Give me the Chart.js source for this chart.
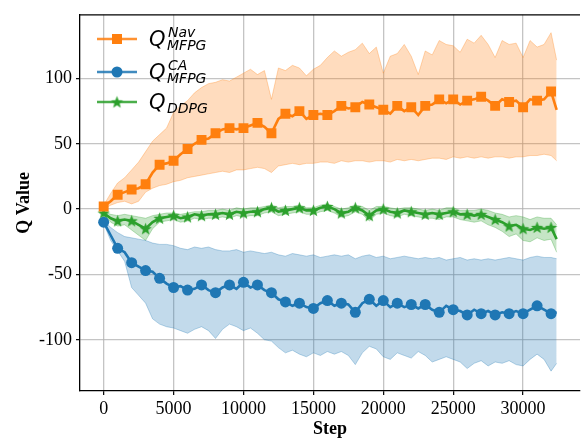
<!DOCTYPE html>
<html>
<head>
<meta charset="utf-8">
<script src="https://cdn.jsdelivr.net/npm/chart.js@4/dist/chart.umd.min.js"></script>
<style>
  body { margin: 0; background: #fff; }
  #wrap { width: 587px; height: 439px; }
</style>
</head>
<body>
<div id="wrap"><canvas id="qChart"></canvas></div>
<script>
// training steps (x) and tick values
const steps = [
  0, 500, 1000, 1500, 2000, 2500, 3000, 3500, 4000, 4500,
  5000, 5500, 6000, 6500, 7000, 7500, 8000, 8500, 9000, 9500,
  10000, 10500, 11000, 11500, 12000, 12500, 13000, 13500, 14000, 14500,
  15000, 15500, 16000, 16500, 17000, 17500, 18000, 18500, 19000, 19500,
  20000, 20500, 21000, 21500, 22000, 22500, 23000, 23500, 24000, 24500,
  25000, 25500, 26000, 26500, 27000, 27500, 28000, 28500, 29000, 29500,
  30000, 30500, 31000, 31500, 32000, 32400
];
const xTicks = [0, 5000, 10000, 15000, 20000, 25000, 30000];
const yTicks = [-100, -50, 0, 50, 100];

// Q^Nav_MFPG
const navMean = [
  2, 6, 11, 13, 15, 16, 19, 28, 34, 35,
  37, 42, 46, 50, 53, 54, 58, 61, 62, 61,
  62, 64, 66, 63, 58, 69, 73, 71, 75, 69,
  72, 73, 72, 75, 79, 77, 78, 82, 80, 78,
  76, 73, 79, 75, 78, 72, 79, 80, 84, 81,
  84, 80, 83, 84, 86, 83, 79, 84, 82, 83,
  78, 84, 83, 84, 90, 76
];
const navHigh = [
  3, 12, 20, 24, 30, 36, 44, 52, 57, 62,
  74, 79, 83, 89, 93, 96, 97, 99, 98, 101,
  104, 107, 103, 106, 84, 108, 106, 110, 108, 102,
  107, 110, 116, 121, 117, 120, 122, 127, 119, 124,
  104, 117, 119, 126, 117, 103, 121, 118, 129, 126,
  125, 120, 130, 127, 133, 126, 116, 129, 126, 127,
  116, 129, 124, 126, 135, 114
];
const navLow = [
  0, 3, 5, 6, 4, 6, 13, 16, 18, 19,
  21, 22, 24, 25, 26, 27, 28, 29, 28, 30,
  30, 31, 32, 31, 28, 33, 34, 35, 34, 35,
  35, 36, 36, 35, 37, 36, 37, 37, 36, 37,
  37, 36, 38, 37, 38, 37, 38, 39, 39, 38,
  40, 39, 40, 39, 40, 39, 40, 40, 39, 40,
  40, 41, 41, 42, 41, 37
];

// Q^CA_MFPG
const caMean = [
  -10, -20, -30, -33, -41, -44, -47, -48, -53, -57,
  -60, -59, -62, -61, -58, -62, -64, -60, -58, -61,
  -56, -60, -58, -62, -64, -69, -71, -74, -72, -75,
  -76, -72, -70, -74, -72, -73, -79, -72, -69, -74,
  -70, -75, -72, -75, -73, -76, -73, -77, -79, -74,
  -77, -78, -81, -77, -80, -78, -81, -79, -80, -78,
  -80, -77, -74, -77, -80, -79
];
const caHigh = [
  -9, -14, -18, -21, -22, -23, -24, -26, -27, -27,
  -28, -30, -31, -29, -30, -29, -31, -32, -32, -31,
  -33, -32, -33, -34, -33, -35, -36, -34, -35, -36,
  -35, -37, -36, -35, -36, -35, -38, -36, -35, -37,
  -36, -38, -37, -36, -37, -38, -37, -38, -37, -39,
  -38, -37, -39, -38, -39, -38, -39, -38, -37, -38,
  -39, -37, -36, -37, -37, -38
];
const caLow = [
  -11, -24, -32, -40, -60, -66, -72, -84, -88, -90,
  -91, -93, -95, -92, -90, -93, -99, -92, -88, -90,
  -93, -91, -95, -100, -101, -106, -110, -108, -111, -113,
  -110, -112, -109, -111, -109, -112, -119, -110, -105, -107,
  -113, -115, -110, -112, -114, -109, -112, -117, -115, -113,
  -115, -117, -122, -118, -116, -120, -117, -118, -116, -119,
  -120, -115, -111, -115, -124, -118
];

// Q_DDPG
const ddpgMean = [
  -3, -7, -9, -8, -9, -12, -15, -10, -7, -6,
  -5, -7, -6, -4, -5, -4, -4, -3, -4, -2,
  -3, -2, -2, 0, 1, -2, -1, 0, 1, -1,
  -1, 1, 2, 0, -3, -2, 1, -1, -5, -1,
  0, -2, -3, -1, -2, -3, -4, -3, -4, -3,
  -2, -4, -4, -5, -4, -6, -8, -10, -13, -12,
  -15, -16, -14, -15, -14, -23
];
const ddpgHigh = [
  -2, -4, -5, -4, -5, -6, -7, -5, -4, -3,
  -3, -4, -3, -2, -2, -1, -1, 0, -1, 1,
  0, 1, 1, 2, 3, 1, 2, 2, 3, 1,
  1, 3, 4, 2, 0, 1, 3, 2, -1, 2,
  2, 1, 0, 1, 1, 0, -1, 0, -1, 1,
  1, -1, -1, -1, 0, -1, -3, -4, -6, -5,
  -6, -8, -6, -7, -7, -12
];
const ddpgLow = [
  -4, -10, -13, -12, -16, -20, -24, -15, -10, -9,
  -8, -10, -9, -7, -8, -7, -7, -6, -7, -5,
  -6, -5, -5, -3, -2, -5, -4, -3, -2, -4,
  -4, -2, -1, -3, -6, -5, -2, -4, -9, -4,
  -3, -5, -6, -4, -5, -6, -7, -7, -8, -6,
  -6, -8, -9, -10, -9, -12, -14, -17, -21, -19,
  -24, -25, -22, -24, -23, -33
];

const ORANGE = '#ff7f0e', BLUE = '#1f77b4', GREEN = '#2ca02c';
const rgba = (hex, a) => {
  const n = parseInt(hex.slice(1), 16);
  return `rgba(${n >> 16},${(n >> 8) & 255},${n & 255},${a})`;
};

function starImage(color, r) {
  const s = Math.ceil(r * 2 + 2);
  const c = document.createElement('canvas');
  c.width = s; c.height = s;
  const g = c.getContext('2d');
  g.translate(s / 2, s / 2 + 0.5);
  g.beginPath();
  for (let i = 0; i < 10; i++) {
    const rad = i % 2 ? r * 0.42 : r;
    const a = -Math.PI / 2 + i * Math.PI / 5;
    g.lineTo(rad * Math.cos(a), rad * Math.sin(a));
  }
  g.closePath();
  g.fillStyle = color;
  g.fill();
  return c;
}
const greenStar = starImage(GREEN, 6.5);

const pts = arr => steps.map((s, i) => ({ x: s, y: arr[i] }));
const everyK = r => ctx => (steps[ctx.dataIndex] % 1000 === 0 ? r : 0);

function band(arr, color, fill) {
  return {
    data: pts(arr),
    borderColor: rgba(color, 0.3),
    backgroundColor: rgba(color, 0.27),
    borderWidth: 1,
    pointRadius: 0,
    fill: fill,
    order: 2
  };
}
function meanLine(arr, color, style, r) {
  return {
    data: pts(arr),
    borderColor: color,
    backgroundColor: color,
    borderWidth: 2.6,
    pointStyle: style,
    pointRadius: everyK(r),
    pointBorderWidth: 0,
    fill: false,
    order: 1
  };
}

// legend with sub/superscripts drawn by hand
const legendRows = [
  { color: ORANGE, marker: 'rect', lineY: 39, base: 46, sup: 'Nav', sub: 'MFPG' },
  { color: BLUE, marker: 'circle', lineY: 72, base: 79, sup: 'CA', sub: 'MFPG' },
  { color: GREEN, marker: 'star', lineY: 102, base: 109, sup: null, sub: 'DDPG' }
];
const customLegend = {
  id: 'customLegend',
  afterDraw(chart) {
    const ctx = chart.ctx;
    ctx.save();
    // top spine
    ctx.strokeStyle = '#000';
    ctx.lineWidth = 1.3;
    ctx.beginPath();
    ctx.moveTo(chart.chartArea.left, chart.chartArea.top);
    ctx.lineTo(chart.chartArea.right, chart.chartArea.top);
    ctx.stroke();

    legendRows.forEach(row => {
      ctx.strokeStyle = rgba(row.color, 0.85);
      ctx.lineWidth = 2.6;
      ctx.beginPath();
      ctx.moveTo(97, row.lineY);
      ctx.lineTo(137, row.lineY);
      ctx.stroke();
      ctx.fillStyle = row.color;
      if (row.marker === 'rect') {
        ctx.fillRect(112, row.lineY - 5, 10, 10);
      } else if (row.marker === 'circle') {
        ctx.beginPath();
        ctx.arc(117, row.lineY, 5.5, 0, Math.PI * 2);
        ctx.fill();
      } else {
        ctx.drawImage(greenStar, 117 - greenStar.width / 2, row.lineY - greenStar.height / 2);
      }
      ctx.fillStyle = '#000';
      ctx.textBaseline = 'alphabetic';
      ctx.textAlign = 'left';
      ctx.font = 'italic 21px "DejaVu Sans"';
      ctx.fillText('Q', 149, row.base);
      ctx.font = 'italic 14px "DejaVu Sans"';
      if (row.sup) ctx.fillText(row.sup, 168, row.base - 9);
      ctx.fillText(row.sub, 167, row.base + 4);
    });
    ctx.restore();
  }
};

const tickFont = { family: '"Liberation Serif", "Times New Roman", serif', size: 18 };
const titleFont = { family: '"Liberation Serif", "Times New Roman", serif', size: 18, weight: 'bold' };

new Chart(document.getElementById('qChart'), {
  type: 'line',
  data: {
    datasets: [
      band(navLow, ORANGE, false),
      band(navHigh, ORANGE, '-1'),
      band(caLow, BLUE, false),
      band(caHigh, BLUE, '-1'),
      band(ddpgLow, GREEN, false),
      band(ddpgHigh, GREEN, '-1'),
      meanLine(navMean, ORANGE, 'rect', 7),
      meanLine(caMean, BLUE, 'circle', 5.5),
      meanLine(ddpgMean, GREEN, greenStar, 6)
    ]
  },
  options: {
    responsive: true,
    maintainAspectRatio: false,
    animation: false,
    devicePixelRatio: 1,
    events: [],
    layout: { padding: { left: 0, right: 0, top: 11, bottom: 0 } },
    elements: { line: { tension: 0 } },
    plugins: { legend: { display: false }, tooltip: { enabled: false } },
    scales: {
      x: {
        type: 'linear',
        min: -1693,
        max: 34070,
        afterBuildTicks: s => { s.ticks = xTicks.map(v => ({ value: v })); },
        afterFit: s => { s.height = 48; },
        ticks: { color: '#000', font: tickFont, padding: 3, maxRotation: 0, callback: v => String(v) },
        grid: { color: 'rgba(176,176,176,0.75)', lineWidth: 1.3, tickColor: '#000', tickLength: 4, tickWidth: 1.2 },
        border: { color: '#000', width: 1.3 },
        title: { display: true, text: 'Step', color: '#000', font: titleFont, padding: { top: 0, bottom: -1 } }
      },
      y: {
        min: -139.2,
        max: 148.7,
        afterBuildTicks: s => { s.ticks = yTicks.map(v => ({ value: v })); },
        afterFit: s => { s.width = 80; },
        ticks: { color: '#000', font: tickFont, padding: 4, callback: v => String(v) },
        grid: { color: 'rgba(176,176,176,0.75)', lineWidth: 1.3, tickColor: '#000', tickLength: 4, tickWidth: 1.2 },
        border: { color: '#000', width: 1.3 },
        title: { display: true, text: 'Q Value', color: '#000', font: titleFont, padding: { top: 14, bottom: 0 } }
      }
    }
  },
  plugins: [customLegend]
});
</script>
</body>
</html>
